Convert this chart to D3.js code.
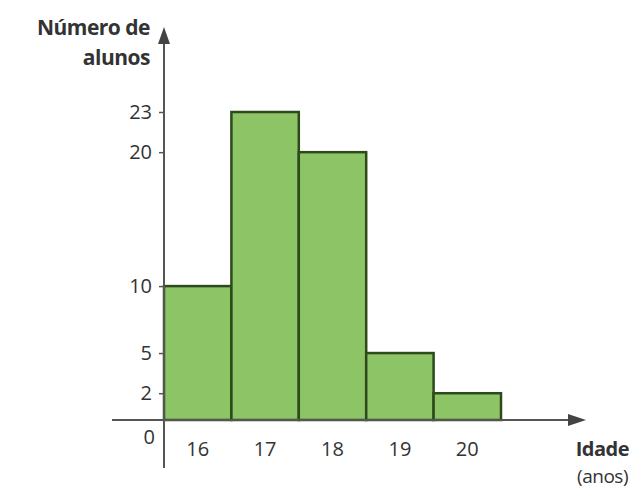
<!DOCTYPE html>
<html>
<head>
<meta charset="utf-8">
<script src="https://cdn.jsdelivr.net/npm/d3@7"></script>
<style>
  body { margin: 0; background: #fff; }
  text { font-family: "Open Sans", "Noto Sans", sans-serif; fill: #333; }
</style>
</head>
<body>
<div id="wrapper"></div>
<script>
// ages and number of students
const idades = ["16", "17", "18", "19", "20"]
const alunos = [10, 23, 20, 5, 2]
const yTicks = [2, 5, 10, 20, 23]

const width = 630, height = 491
const margin = {left: 164, top: 112, bottom: 71}
const baseY = height - margin.bottom   // 420

var svg = d3.select("#wrapper").append("svg")
  .attr("width", width)
  .attr("height", height)

var x = d3.scaleBand()
  .domain(idades)
  .range([164, 501])
  .padding(0)

var y = d3.scaleLinear()
  .domain([0, 23])
  .range([baseY, margin.top])

// bars
svg.append("g").selectAll("rect")
  .data(alunos)
  .enter().append("rect")
    .attr("x", (d, i) => x(idades[i]))
    .attr("y", d => y(d))
    .attr("width", x.bandwidth())
    .attr("height", d => baseY - y(d))
    .attr("fill", "#8dc465")
    .attr("stroke", "#2c4a1c")
    .attr("stroke-width", 2.5)

// y axis with ticks on the left
var yAxis = svg.append("g")
  .attr("transform", `translate(${x.range()[0]},0)`)
  .call(d3.axisLeft(y).tickValues(yTicks).tickSize(5).tickPadding(7))
yAxis.select(".domain").remove()
yAxis.selectAll("line").attr("stroke", "#555").attr("stroke-width", 1.5)
yAxis.selectAll("text")
  .style("font-size", "20px")
  .style("font-family", "'Open Sans', sans-serif")
  .attr("fill", "#333")

// axis lines
svg.append("line")
  .attr("x1", 164).attr("x2", 164)
  .attr("y1", 40).attr("y2", 468)
  .attr("stroke", "#555").attr("stroke-width", 2)
svg.append("line")
  .attr("x1", 112).attr("x2", 575)
  .attr("y1", baseY).attr("y2", baseY)
  .attr("stroke", "#555").attr("stroke-width", 2)

// arrow heads
svg.append("path")
  .attr("d", "M164,27 L158,44 L170,44 Z")
  .attr("fill", "#444")
svg.append("path")
  .attr("d", `M586,${baseY} L568,${baseY - 6} L568,${baseY + 6} Z`)
  .attr("fill", "#444")

// x labels
svg.append("g").selectAll("text")
  .data(idades)
  .enter().append("text")
    .attr("x", d => x(d) + x.bandwidth() / 2)
    .attr("y", 456)
    .attr("text-anchor", "middle")
    .style("font-size", "20px")
    .text(d => d)

svg.append("text")
  .attr("x", 155).attr("y", 444)
  .attr("text-anchor", "end")
  .style("font-size", "20px")
  .text("0")

// axis titles
svg.append("text")
  .attr("x", 150).attr("y", 35)
  .attr("text-anchor", "end")
  .style("font-size", "21px").style("font-weight", "bold")
  .style("letter-spacing", "-0.5px")
  .text("Número de")
svg.append("text")
  .attr("x", 150).attr("y", 65)
  .attr("text-anchor", "end")
  .style("font-size", "21px").style("font-weight", "bold")
  .style("letter-spacing", "-0.5px")
  .text("alunos")

svg.append("text")
  .attr("x", 629).attr("y", 456)
  .attr("text-anchor", "end")
  .style("font-size", "20px").style("font-weight", "bold")
  .style("letter-spacing", "-0.5px")
  .text("Idade")
svg.append("text")
  .attr("x", 628).attr("y", 483)
  .attr("text-anchor", "end")
  .style("font-size", "19px")
  .style("letter-spacing", "-0.5px")
  .text("(anos)")
</script>
</body>
</html>
